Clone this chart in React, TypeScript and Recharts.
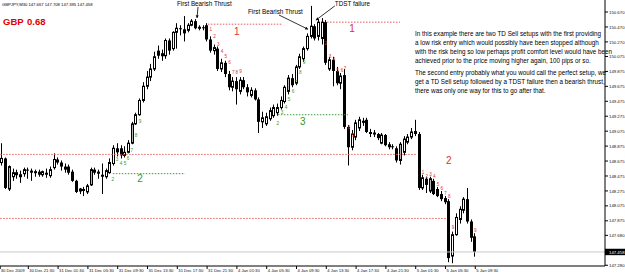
import { ComposedChart, Bar, XAxis, YAxis, ReferenceLine, ReferenceDot } from "recharts";

// GBPJPY M30, bars 30 Dec 2009 17:30 -> 5 Jan 2010 09:30 (index 1..128)
const opens = [
  148.655, 148.71, 148.301, 148.465, 148.492, 148.465, 148.506, 148.56, 148.547, 148.519,
  148.533, 148.492, 148.519, 148.479, 148.587, 148.696, 148.655, 148.601, 148.601, 148.533,
  148.41, 148.274, 148.301, 148.261, 148.356, 148.56, 148.533, 148.492, 148.465, 148.519,
  148.642, 148.846, 148.846, 148.751, 148.792, 148.914, 149.173, 149.295, 149.486, 149.676,
  149.799, 149.908, 150.153, 150.085, 150.085, 150.289, 150.18, 150.398, 150.453, 150.439,
  150.425, 150.493, 150.548, 150.453, 150.466, 150.493, 150.303, 150.153, 150.18, 149.908,
  149.99, 149.84, 149.663, 149.745, 149.608, 149.758, 149.663, 149.554, 149.622, 149.5,
  149.2, 149.173, 149.241, 149.282, 149.322, 149.391, 149.472, 149.608, 149.785, 149.717,
  149.935, 150.044, 150.18, 150.344, 150.48, 150.344, 150.316, 150.534, 149.908, 150.03,
  149.881, 149.717, 149.826, 149.132, 148.86, 148.996, 149.118, 149.214, 149.227, 149.064,
  149.037, 149.037, 148.914, 149.023, 148.9, 148.873, 148.846, 148.683, 148.792, 148.928,
  148.996, 149.077, 149.037, 148.315, 148.438, 148.274, 148.41, 148.301, 148.233, 148.179,
  148.138, 147.403, 147.689, 147.893, 148.016, 148.165, 147.866, 147.667,
];
const highs = [
  148.914, 148.723, 148.615, 148.574, 148.56, 148.547, 148.587, 148.587, 148.574, 148.56,
  148.56, 148.547, 148.574, 148.601, 148.778, 148.723, 148.683, 148.642, 148.628, 148.56,
  148.424, 148.315, 148.329, 148.369, 148.587, 148.587, 148.56, 148.642, 148.574, 148.71,
  148.887, 148.914, 148.887, 148.873, 148.955, 149.2, 149.322, 149.513, 149.731, 149.881,
  149.976, 150.139, 150.221, 150.167, 150.316, 150.316, 150.412, 150.521, 150.493, 150.616,
  150.521, 150.575, 150.575, 150.493, 150.493, 150.521, 150.344, 150.235, 150.208, 150.044,
  150.017, 149.881, 149.799, 149.799, 149.799, 149.799, 149.704, 149.663, 149.649, 149.527,
  149.336, 149.322, 149.391, 149.431, 149.445, 149.54, 149.69, 149.826, 149.84, 149.962,
  150.112, 150.208, 150.384, 150.752, 150.507, 150.575, 150.589, 150.561, 150.071, 150.071,
  149.935, 149.853, 149.908, 149.159, 149.091, 149.227, 149.268, 149.254, 149.254, 149.105,
  149.091, 149.05, 149.05, 149.037, 148.928, 148.9, 148.873, 148.928, 149.009, 149.037,
  149.118, 149.227, 149.064, 148.492, 148.465, 148.465, 148.438, 148.329, 148.274, 148.206,
  148.165, 147.73, 147.975, 148.07, 148.192, 148.315, 147.893, 147.708,
];
const lows = [
  148.615, 148.301, 148.274, 148.41, 148.438, 148.383, 148.465, 148.438, 148.41, 148.465,
  148.465, 148.465, 148.451, 148.451, 148.56, 148.628, 148.547, 148.519, 148.492, 148.397,
  148.247, 148.233, 148.206, 148.233, 148.342, 148.492, 148.438, 148.233, 148.438, 148.506,
  148.615, 148.737, 148.71, 148.723, 148.778, 148.9, 149.159, 149.282, 149.459, 149.636,
  149.745, 149.881, 150.044, 150.017, 150.044, 150.099, 150.153, 150.18, 150.357, 150.276,
  150.398, 150.48, 150.439, 150.425, 150.425, 150.276, 150.126, 150.099, 149.881, 149.867,
  149.799, 149.622, 149.608, 149.431, 149.567, 149.636, 149.54, 149.527, 149.486, 149.05,
  149.118, 149.146, 149.214, 149.254, 149.282, 149.363, 149.445, 149.567, 149.663, 149.69,
  149.908, 150.003, 150.153, 150.316, 150.289, 150.289, 150.235, 149.962, 149.881, 149.676,
  149.69, 149.636, 149.105, 148.615, 148.819, 148.955, 149.077, 149.146, 149.05, 148.996,
  148.996, 148.955, 148.9, 148.873, 148.832, 148.832, 148.655, 148.628, 148.751, 148.9,
  148.969, 149.009, 148.288, 148.288, 148.247, 148.247, 148.22, 148.192, 148.138, 148.097,
  147.321, 147.307, 147.675, 147.838, 147.975, 147.838, 147.594, 147.395,
];
const closes = [
  148.71, 148.315, 148.601, 148.519, 148.519, 148.492, 148.56, 148.547, 148.519, 148.533,
  148.492, 148.533, 148.492, 148.56, 148.696, 148.655, 148.601, 148.56, 148.519, 148.41,
  148.261, 148.301, 148.274, 148.342, 148.56, 148.519, 148.506, 148.465, 148.547, 148.655,
  148.846, 148.792, 148.751, 148.792, 148.914, 149.173, 149.295, 149.486, 149.676, 149.799,
  149.908, 150.071, 150.085, 150.112, 150.289, 150.153, 150.398, 150.453, 150.439, 150.384,
  150.493, 150.548, 150.453, 150.466, 150.453, 150.303, 150.153, 150.194, 149.908, 149.99,
  149.84, 149.663, 149.745, 149.636, 149.758, 149.663, 149.595, 149.622, 149.5, 149.2,
  149.254, 149.268, 149.35, 149.391, 149.391, 149.486, 149.663, 149.785, 149.69, 149.935,
  150.071, 150.18, 150.344, 150.48, 150.316, 150.534, 150.534, 149.99, 150.03, 149.881,
  149.717, 149.813, 149.132, 148.86, 149.037, 149.186, 149.227, 149.186, 149.064, 149.037,
  149.05, 148.982, 149.023, 148.887, 148.86, 148.86, 148.683, 148.9, 148.969, 148.996,
  149.064, 149.037, 148.315, 148.451, 148.356, 148.438, 148.233, 148.206, 148.165, 148.124,
  147.376, 147.689, 147.92, 148.029, 148.165, 147.866, 147.648, 147.458,
];
const greyBars = [3, 25, 36, 78, 108, 116];

const xTickIdx = [0.45, 8, 16, 24, 32, 40, 48, 56, 64, 72, 80, 88, 96, 104, 112, 120, 128];
const xTickLabels = [
  "30 Dec 2009", "30 Dec 21:30", "31 Dec 01:30", "31 Dec 05:30", "31 Dec 09:30", "31 Dec 13:30",
  "31 Dec 17:30", "31 Dec 21:30", "4 Jan 01:30", "4 Jan 05:30", "4 Jan 09:30", "4 Jan 13:30",
  "4 Jan 17:30", "4 Jan 21:30", "5 Jan 01:30", "5 Jan 05:30", "5 Jan 09:30",
];
const yTicks = [
  150.67, 150.47, 150.27, 150.075, 149.875, 149.675, 149.475, 149.275, 149.075, 148.875,
  148.675, 148.475, 148.275, 148.075, 147.875, 147.68, 147.458, 147.28,
];
const yTickLabels = [
  "150.670", "150.470", "150.270", "150.075", "149.875", "149.675", "149.475", "149.275", "149.075", "148.875",
  "148.675", "148.475", "148.275", "148.075", "147.875", "147.680", "147.458", "147.280",
];
const lastPrice = 147.458;

// TD setup counts
const redCounts = [
  { i: 57, p: 150.439, t: "1" }, { i: 58, p: 150.344, t: "2" }, { i: 59, p: 150.235, t: "3" },
  { i: 60, p: 150.139, t: "4" }, { i: 61, p: 150.071, t: "5" }, { i: 62, p: 149.99, t: "6" },
  { i: 63, p: 149.867, t: "7" }, { i: 64, p: 149.867, t: "8" }, { i: 65, p: 149.881, t: "9" },
  { i: 87.9, p: 150.248, t: "2" }, { i: 89, p: 150.071, t: "3" }, { i: 90.1, p: 150.03, t: "4" },
  { i: 91.1, p: 149.894, t: "5" }, { i: 92.2, p: 149.894, t: "6" }, { i: 93, p: 149.922, t: "7" },
  { i: 94.1, p: 149.132, t: "8" }, { i: 95.2, p: 149.023, t: "9" },
  { i: 114, p: 148.519, t: "1" }, { i: 115, p: 148.465, t: "2" }, { i: 116, p: 148.492, t: "3" },
  { i: 117, p: 148.465, t: "4" }, { i: 118, p: 148.369, t: "5" }, { i: 119, p: 148.315, t: "6" },
  { i: 120, p: 148.247, t: "7" }, { i: 121, p: 148.206, t: "8" }, { i: 122, p: 147.784, t: "9" },
  { i: 128, p: 147.743, t: "9" },
];
const greenCounts = [
  { i: 30.7, p: 148.424, t: "2" }, { i: 31.8, p: 148.696, t: "3" }, { i: 32.9, p: 148.642, t: "4" },
  { i: 33.96, p: 148.642, t: "5" }, { i: 34.8, p: 148.71, t: "6" }, { i: 35.8, p: 148.819, t: "7" },
  { i: 36.9, p: 149.023, t: "8" }, { i: 38, p: 149.2, t: "9" },
  { i: 75, p: 149.186, t: "2" }, { i: 76.1, p: 149.322, t: "3" }, { i: 77.2, p: 149.391, t: "4" },
  { i: 78, p: 149.5, t: "5" }, { i: 79.1, p: 149.608, t: "6" }, { i: 79.9, p: 149.731, t: "7" },
  { i: 81, p: 149.867, t: "8" }, { i: 82, p: 149.99, t: "9" },
];
const bigRed = [
  { i: 64, p: 150.412, t: "1" }, { i: 94.9, p: 150.453, t: "1" }, { i: 120.9, p: 148.683, t: "2" },
];
const bigGreen = [
  { i: 38, p: 148.438, t: "2" }, { i: 81.7, p: 149.2, t: "3" },
];
// TDST levels
const redLevels = [
  { from: 56.2, to: 76.1, p: 150.507 },
  { from: 88.2, to: 107.8, p: 150.534 },
  { from: 0.45, to: 112.3, p: 148.764 },
  { from: 0.45, to: 120.4, p: 147.907 },
];
const greenLevels = [
  { from: 30.7, to: 50.1, p: 148.506 },
  { from: 75, to: 93.8, p: 149.295 },
];
const notes = [
  { i: 47.9, p: 150.752, t: "First Bearish Thrust" },
  { i: 66.98, p: 150.65, t: "First Bearish Thrust" },
  { i: 90.3, p: 150.752, t: "TDST failure" },
];
const arrows = [
  { i1: 53.56, p1: 150.738, i2: 53.29, p2: 150.589 },
  { i1: 75.3, p1: 150.63, i2: 83.1, p2: 150.439 },
  { i1: 90.3, p1: 150.752, i2: 85.2, p2: 150.561 },
];
const paragraph = [
  "In this example there are two TD Sell setups with the first providing",
  "a low risk entry which would possibly have been stopped although",
  "with the risk being so low perhaps profit comfort level would have been",
  "achieved prior to the price moving higher again, 100 pips or so.",
  "The second entry probably what you would call the perfect setup, we",
  "get a TD Sell setup followed by a TDST failure then a bearish thrust,",
  "there was only one way for this to go after that.",
];

const data = opens.map((open, k) => ({
  i: k + 1,
  open,
  high: highs[k],
  low: lows[k],
  close: closes[k],
}));

const FONT = "'Liberation Sans', Arial, sans-serif";
const RED = "#e03030";
const GREEN = "#2e9a2e";

function Candle(props: any) {
  const { x, y, width, height, payload } = props;
  if (x == null || !payload) return null;
  const { open, high, low, close, i } = payload;
  const k = high > low ? height / (high - low) : 0;
  const py = (v: number) => y + (high - v) * k;
  const cx = Math.round(x + width / 2 - 0.5) + 0.5;
  const top = py(Math.max(open, close));
  const h = Math.max(py(Math.min(open, close)) - top, 1);
  const bull = close >= open;
  return (
    <g>
      <line x1={cx} x2={cx} y1={py(high)} y2={py(low)} stroke="#000" strokeWidth={1} />
      {bull ? (
        <rect x={cx - 1} y={top} width={2} height={h} fill={greyBars.includes(i) ? "#b4b4b4" : "#fff"} stroke="#000" strokeWidth={1} />
      ) : (
        <rect x={cx - 1.5} y={top} width={3} height={h} fill="#000" />
      )}
    </g>
  );
}

function XTick(props: any) {
  const { x, y, payload } = props;
  const k = xTickIdx.indexOf(payload.value);
  return (
    <text x={k === 0 ? x + 0.6 : x + 1} y={y + 1.8} fontSize={4.2} fontFamily={FONT} fill="#111">
      {xTickLabels[k]}
    </text>
  );
}

function YTick(props: any) {
  const { x, y, payload } = props;
  const k = yTicks.indexOf(payload.value);
  if (payload.value === lastPrice) {
    return (
      <g>
        <rect x={x - 4} y={y - 3.2} width={20} height={6.4} fill="#000" />
        <text x={x} y={y + 1.6} fontSize={4.3} fontFamily={FONT} fill="#fff">{yTickLabels[k]}</text>
      </g>
    );
  }
  return (
    <text x={x} y={y + 1.6} fontSize={4.3} fontFamily={FONT} fill="#111">{yTickLabels[k]}</text>
  );
}

function Arrow(props: any) {
  const { x1, y1, x2, y2 } = props;
  const a = Math.atan2(y2 - y1, x2 - x1);
  const s = 3.2;
  const h1 = [x2 - s * Math.cos(a - 0.5), y2 - s * Math.sin(a - 0.5)];
  const h2 = [x2 - s * Math.cos(a + 0.5), y2 - s * Math.sin(a + 0.5)];
  return (
    <g>
      <line x1={x1} y1={y1} x2={x2} y2={y2} stroke="#000" strokeWidth={0.8} />
      <polygon points={`${x2},${y2} ${h1[0]},${h1[1]} ${h2[0]},${h2[1]}`} fill="#000" />
    </g>
  );
}

const countLabel = (color: string, t: string, size: number) => (pr: any) => (
  <text x={pr.cx} y={pr.cy + size * 0.36} textAnchor="middle" fontSize={size} fontFamily={FONT} fill={color}>
    {t}
  </text>
);

export default function App() {
  return (
    <div style={{ position: "relative", width: 625, height: 275, background: "#fff" }}>
      <style>{"body{margin:0}"}</style>
      <ComposedChart width={625} height={275} data={data} margin={{ top: 0, right: 0, bottom: 0, left: 0 }}>
        <XAxis
          type="number"
          dataKey="i"
          domain={[0.403, 162.82]}
          allowDataOverflow
          ticks={xTickIdx}
          interval={0}
          height={9}
          tickSize={3}
          tickMargin={1}
          tick={<XTick />}
          axisLine={{ stroke: "#000" }}
          tickLine={{ stroke: "#000" }}
        />
        <YAxis
          orientation="right"
          type="number"
          domain={[147.27, 150.831]}
          allowDataOverflow
          ticks={yTicks}
          interval={0}
          width={20}
          tickSize={3}
          tickMargin={1}
          tick={<YTick />}
          axisLine={{ stroke: "#000" }}
          tickLine={{ stroke: "#000" }}
        />
        <ReferenceLine y={lastPrice} stroke="#c8c8c8" strokeWidth={1} />
        {redLevels.map((l, k) => (
          <ReferenceLine key={"r" + k} segment={[{ x: l.from, y: l.p }, { x: l.to, y: l.p }]} stroke="#e06060" strokeDasharray="1.5 1.5" />
        ))}
        {greenLevels.map((l, k) => (
          <ReferenceLine key={"g" + k} segment={[{ x: l.from, y: l.p }, { x: l.to, y: l.p }]} stroke="#3a9a3a" strokeDasharray="1.5 1.5" />
        ))}
        <Bar dataKey={(d: any) => [d.low, d.high]} barSize={3} shape={Candle} isAnimationActive={false} />
        {arrows.map((a, k) => (
          <ReferenceLine key={"a" + k} segment={[{ x: a.i1, y: a.p1 }, { x: a.i2, y: a.p2 }]} shape={Arrow} />
        ))}
        {notes.map((n, k) => (
          <ReferenceDot
            key={"n" + k}
            x={n.i}
            y={n.p}
            r={0}
            shape={(pr: any) => (
              <text x={pr.cx} y={pr.cy} fontSize={6.3} fontFamily={FONT} fill="#000">{n.t}</text>
            )}
          />
        ))}
        {redCounts.map((c, k) => (
          <ReferenceDot key={"rc" + k} x={c.i} y={c.p} r={0} shape={countLabel(RED, c.t, 4.6)} />
        ))}
        {greenCounts.map((c, k) => (
          <ReferenceDot key={"gc" + k} x={c.i} y={c.p} r={0} shape={countLabel(GREEN, c.t, 4.6)} />
        ))}
        {bigRed.map((c, k) => (
          <ReferenceDot key={"br" + k} x={c.i} y={c.p} r={0} shape={countLabel(RED, c.t, 10)} />
        ))}
        {bigGreen.map((c, k) => (
          <ReferenceDot key={"bg" + k} x={c.i} y={c.p} r={0} shape={countLabel(GREEN, c.t, 10)} />
        ))}
      </ComposedChart>
      <svg width={625} height={275} style={{ position: "absolute", left: 0, top: 0, pointerEvents: "none" }}>
        <text x={2} y={5.5} fontSize={4.2} fontFamily={FONT} fill="#000">GBPJPY,M30  147.667 147.708 147.395 147.458</text>
        <text x={3} y={25} fontSize={9.5} fontWeight="bold" fontFamily={FONT} fill="#e00000">GBP</text>
        <text x={27} y={25} fontSize={9.5} fontWeight="bold" fontFamily={FONT} fill="#e00000">0.68</text>
        <text fontSize={6.3} fontFamily={FONT} fill="#000">
          {paragraph.map((line, k) => (
            <tspan key={k} x={415} y={36.2 + k * 9 + (k >= 4 ? 2.3 : 0)}>{line}</tspan>
          ))}
        </text>
      </svg>
    </div>
  );
}
